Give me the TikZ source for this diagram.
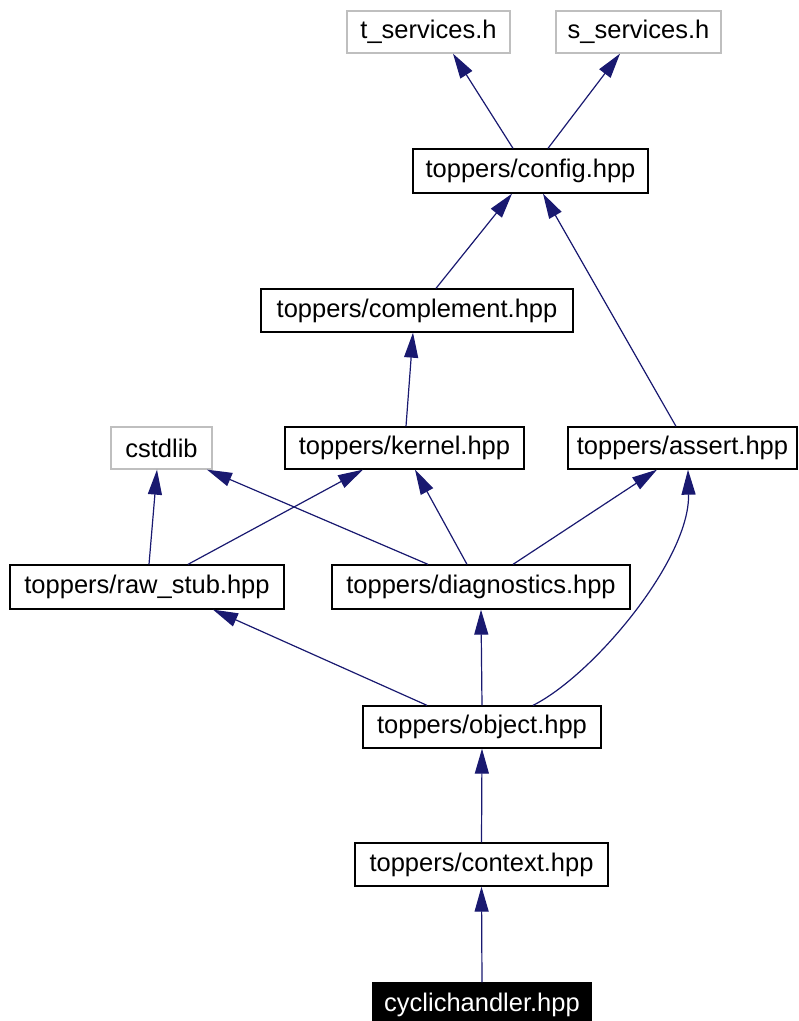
\documentclass[tikz,border=0pt]{standalone}
\usepackage{fontspec}
\setmainfont{Liberation Sans}
\usetikzlibrary{arrows.meta}
\definecolor{edgeblue}{HTML}{191970}
\definecolor{extgray}{HTML}{BFBFBF}
\begin{document}
\begin{tikzpicture}[x=1pt,y=-1pt,
  box/.style={draw=black,line width=1.3pt,fill=white,rectangle,inner sep=0pt,
    font=\fontsize{25.5}{30}\selectfont,text=black},
  extbox/.style={box,draw=extgray},
  curbox/.style={box,fill=black,text=white},
  dep/.style={draw=edgeblue,line width=1.2pt,-{Triangle[length=25pt,width=14pt]}}]
\useasboundingbox (0,0) rectangle (799,1021);
\node[extbox,minimum width=163pt,minimum height=42pt] (tserv) at (428.5,32) {t\_services.h};
\node[extbox,minimum width=165pt,minimum height=42pt] (sserv) at (638.5,32) {s\_services.h};
\node[box,minimum width=235pt,minimum height=44pt] (config) at (530.5,171) {toppers/config.hpp};
\node[box,minimum width=312pt,minimum height=43pt] (compl) at (417,310.5) {toppers/complement.hpp};
\node[extbox,minimum width=101pt,minimum height=42pt] (cstd) at (161.5,448) {cstdlib};
\node[box,minimum width=239pt,minimum height=42pt] (kernel) at (404.5,448) {toppers/kernel.hpp};
\node[box,minimum width=229pt,minimum height=42pt] (assert) at (682.5,448) {toppers/assert.hpp};
\node[box,minimum width=274pt,minimum height=44pt] (raw) at (147,587) {toppers/raw\_stub.hpp};
\node[box,minimum width=298pt,minimum height=44pt] (diag) at (481,587) {toppers/diagnostics.hpp};
\node[box,minimum width=238pt,minimum height=42pt] (object) at (482,727) {toppers/object.hpp};
\node[box,minimum width=253pt,minimum height=43pt] (context) at (481.5,864.5) {toppers/context.hpp};
\node[curbox,minimum width=218pt,minimum height=43pt] (cyclic) at (482,1004.5) {cyclichandler.hpp};

\draw[dep] ([xshift=-17.5pt]config.north) -- ([xshift=24.5pt]tserv.south);
\draw[dep] ([xshift=17.5pt]config.north) -- ([xshift=-18.5pt]sserv.south);
\draw[dep] ([xshift=19pt]compl.north) -- ([xshift=-18.5pt]config.south);
\draw[dep] ([xshift=-6.5pt]assert.north) -- ([xshift=12.5pt]config.south);
\draw[dep] ([xshift=1.5pt]kernel.north) -- ([xshift=-4pt]compl.south);
\draw[dep] ([xshift=2pt]raw.north) -- ([xshift=-4.5pt]cstd.south);
\draw[dep] ([xshift=41pt]raw.north) -- ([xshift=-41.5pt]kernel.south);
\draw[dep] ([xshift=-53pt]diag.north) -- ([xshift=45.5pt]cstd.south);
\draw[dep] ([xshift=-14pt]diag.north) -- ([xshift=10.5pt]kernel.south);
\draw[dep] ([xshift=32pt]diag.north) -- ([xshift=-25.5pt]assert.south);
\draw[dep] ([xshift=-55pt]object.north) -- ([xshift=66pt]raw.south);
\draw[dep] (object.north) -- (diag.south);
\draw[dep] ([xshift=51pt]object.north) .. controls +(60,-30) and +(2,90) .. ([xshift=5.5pt]assert.south);
\draw[dep] (context.north) -- (object.south);
\draw[dep] (cyclic.north) -- (context.south);
\end{tikzpicture}
\end{document}
